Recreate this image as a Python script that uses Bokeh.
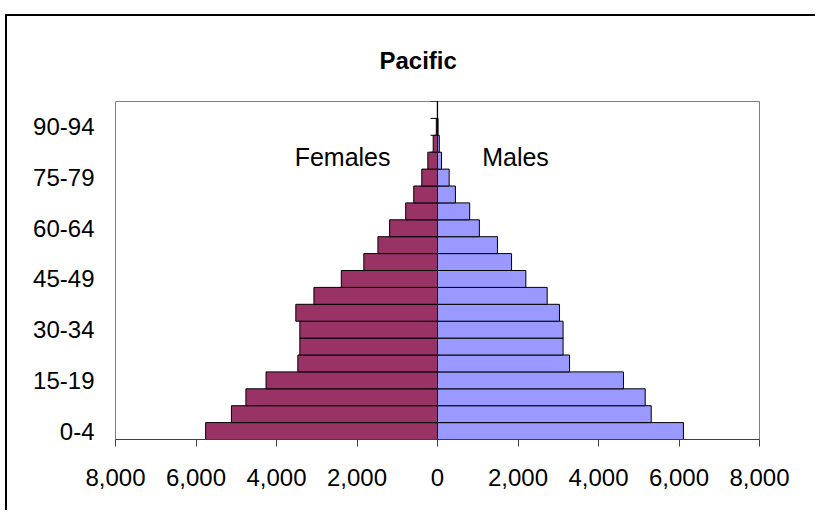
from bokeh.plotting import figure
from bokeh.models import Span, Label, ColumnDataSource
from bokeh.embed import file_html
from bokeh.resources import INLINE

age_groups = ["0-4", "5-9", "10-14", "15-19", "20-24", "25-29", "30-34", "35-39",
              "40-44", "45-49", "50-54", "55-59", "60-64", "65-69", "70-74", "75-79",
              "80-84", "85-89", "90-94", "95-99"]
females = [5760, 5120, 4760, 4260, 3470, 3420, 3420, 3520, 3070, 2390,
           1830, 1480, 1190, 790, 590, 390, 240, 107, 30, 5]
males = [6110, 5310, 5160, 4620, 3280, 3120, 3120, 3030, 2725, 2195,
         1840, 1490, 1040, 800, 445, 290, 100, 45, 15, 3]
x_ticks = [-8000, -6000, -4000, -2000, 0, 2000, 4000, 6000, 8000]
y_label_step = 3
title_text = "Pacific"

n = len(age_groups)
idx = list(range(n))
src = ColumnDataSource(dict(
    y=idx,
    f_left=[-v for v in females],
    m_right=males,
    zero=[0] * n,
))

FONT = "Liberation Sans"

p = figure(width=810, height=496, output_backend="svg", toolbar_location=None,
           x_range=(-8000, 8000), y_range=(-0.5, n - 0.5),
           min_border_left=108, min_border_right=58,
           min_border_top=85, min_border_bottom=73)
p.styles = {"position": "relative", "left": "5px", "top": "14px",
            "border-left": "2px solid black", "border-top": "2px solid black"}

p.title.text = title_text
p.title.align = "left"
p.title.offset = 264
p.title.text_font = FONT
p.title.text_font_style = "bold"
p.title.text_font_size = "24px"
p.title.text_color = "black"
p.title.standoff = 56

p.outline_line_color = "#808080"
p.outline_line_width = 1
p.xgrid.visible = False
p.ygrid.visible = False

# category-axis tick marks at category boundaries (mostly hidden behind bars)
tick_len = 7 / 644 * 16000
bounds = [i - 0.5 for i in range(n + 1)]
p.segment(x0=[-tick_len] * len(bounds), x1=[0] * len(bounds), y0=bounds, y1=bounds,
          line_color="black", line_width=1)

p.hbar(y="y", left="f_left", right="zero", height=1, source=src,
       fill_color="#993366", line_color="black", line_width=1)
p.hbar(y="y", left="zero", right="m_right", height=1, source=src,
       fill_color="#9999FF", line_color="black", line_width=1)

p.add_layout(Span(location=0, dimension="height", line_color="black", line_width=1))

p.add_layout(Label(x=-1168, y=16.2, text="Females", text_align="right",
                   text_baseline="middle", text_font=FONT,
                   text_font_size="25px", text_color="black"))
p.add_layout(Label(x=1110, y=16.2, text="Males", text_align="left",
                   text_baseline="middle", text_font=FONT,
                   text_font_size="25px", text_color="black"))

xa = p.xaxis[0]
xa.ticker = x_ticks
xa.major_label_overrides = {t: f"{abs(t):,}" for t in x_ticks}
xa.axis_line_color = "#404040"
xa.major_tick_line_color = "#404040"
xa.major_tick_in = 0
xa.major_tick_out = 7
xa.minor_tick_line_color = None
xa.major_label_standoff = 22
xa.major_label_text_font = FONT
xa.major_label_text_font_size = "24px"
xa.major_label_text_color = "black"

ya = p.yaxis[0]
ya.ticker = list(range(0, n, y_label_step))
ya.major_label_overrides = {i: age_groups[i] for i in range(0, n, y_label_step)}
ya.axis_line_color = None
ya.major_tick_line_color = None
ya.minor_tick_line_color = None
ya.major_tick_in = 0
ya.major_tick_out = 0
ya.major_label_standoff = 21
ya.major_label_text_font = FONT
ya.major_label_text_font_size = "24px"
ya.major_label_text_color = "black"

open("out.html", "w").write(file_html(p, INLINE))
